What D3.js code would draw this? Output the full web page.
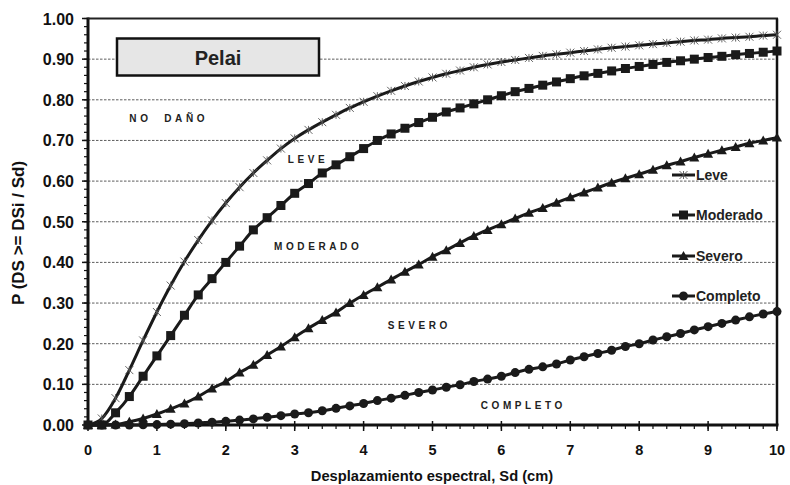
<!DOCTYPE html>
<html lang="es">
<head>
<meta charset="UTF-8">
<title>Pelai</title>
<script src="https://d3js.org/d3.v7.min.js"></script>
<style>
    body { margin: 0; background: #fff; }
    svg { display: block; font-family: "Liberation Sans", Arial, sans-serif; }
    .tick-label { font-weight: bold; fill: #111; }
    .zone { font-size: 10px; font-weight: bold; letter-spacing: 3.6px; fill: #222; }
    .legend-text { font-size: 14px; font-weight: bold; fill: #222; }
</style>
</head>
<body>
<div id="chart"></div>
<script>
// Sd values (cm), one point every 0.2 cm
const sd = d3.range(0, 51).map(i => +(i * 0.2).toFixed(1));

const leve = [0, 0.016, 0.066, 0.135, 0.208, 0.278, 0.343, 0.402, 0.455, 0.503, 0.546, 0.585, 0.62, 0.651, 0.68, 0.705, 0.726,
    0.745, 0.763, 0.78, 0.795, 0.809, 0.822, 0.834, 0.845, 0.855, 0.864, 0.872, 0.88, 0.887, 0.893, 0.898, 0.903,
    0.908, 0.912, 0.916, 0.92, 0.924, 0.928, 0.931, 0.934, 0.937, 0.94, 0.943, 0.946, 0.948, 0.951, 0.953, 0.955, 0.958, 0.96];
const moderado = [0, 0, 0.03, 0.07, 0.12, 0.17, 0.22, 0.27, 0.32, 0.36, 0.40, 0.44, 0.48, 0.51, 0.54, 0.57, 0.594,
    0.62, 0.64, 0.66, 0.68, 0.70, 0.716, 0.73, 0.744, 0.757, 0.77, 0.78, 0.79, 0.80, 0.81, 0.82, 0.828,
    0.836, 0.844, 0.852, 0.859, 0.865, 0.871, 0.877, 0.882, 0.887, 0.892, 0.896, 0.90, 0.904, 0.907, 0.911, 0.914, 0.917, 0.92];
const severo = [0, 0, 0.001, 0.008, 0.016, 0.027, 0.04, 0.053, 0.07, 0.09, 0.107, 0.129, 0.148, 0.172, 0.193, 0.216, 0.238,
    0.258, 0.277, 0.30, 0.32, 0.339, 0.358, 0.377, 0.395, 0.414, 0.43, 0.448, 0.465, 0.48, 0.494, 0.508, 0.522,
    0.534, 0.547, 0.56, 0.572, 0.584, 0.596, 0.607, 0.617, 0.628, 0.639, 0.648, 0.658, 0.667, 0.676, 0.684, 0.693, 0.70, 0.707];
const completo = [0, 0, 0, 0, 0.0005, 0.001, 0.002, 0.003, 0.005, 0.007, 0.009, 0.012, 0.015, 0.019, 0.023, 0.027, 0.03,
    0.035, 0.041, 0.047, 0.053, 0.06, 0.066, 0.073, 0.08, 0.086, 0.093, 0.099, 0.107, 0.113, 0.12, 0.129, 0.137,
    0.143, 0.15, 0.16, 0.168, 0.176, 0.184, 0.193, 0.20, 0.209, 0.217, 0.225, 0.234, 0.242, 0.25, 0.258, 0.266, 0.273, 0.279];

const seriesNames = ['Leve', 'Moderado', 'Severo', 'Completo'];
const seriesMarkers = ['star', 'square', 'triangle', 'circle'];
const xTicks = d3.range(0, 11);
const yTicks = d3.range(0, 1.0001, 0.1);

// zone labels: [text, sd, probability]
const zoneLabels = [
    ['NO  DAÑO', 0.6, 0.745],
    ['LEVE', 2.9, 0.645],
    ['MODERADO', 2.7, 0.43],
    ['SEVERO', 4.35, 0.235],
    ['COMPLETO', 5.7, 0.04]
];

const width = 790, height = 485;
const margin = { top: 18.5, right: 13, bottom: 60, left: 88 };

const svg = d3.select('#chart').append('svg')
    .attr('width', width)
    .attr('height', height);

const x = d3.scaleLinear().domain([0, 10]).range([margin.left, width - margin.right]);
const y = d3.scaleLinear().domain([0, 1]).range([height - margin.bottom, margin.top]);

// gridlines
svg.append('g').selectAll('line')
    .data(yTicks.slice(1))
    .enter().append('line')
    .attr('x1', x(0)).attr('x2', x(10))
    .attr('y1', d => y(d)).attr('y2', d => y(d))
    .attr('stroke', '#333')
    .attr('stroke-width', 0.8)
    .attr('stroke-dasharray', '2.5,1.5');

// title box
svg.append('rect')
    .attr('x', 117).attr('y', 38.5)
    .attr('width', 202).attr('height', 37)
    .attr('fill', '#e6e6e6')
    .attr('stroke', '#111')
    .attr('stroke-width', 2.5);
svg.append('text')
    .attr('x', 218).attr('y', 65)
    .attr('text-anchor', 'middle')
    .style('font-size', '20px').style('font-weight', 'bold').style('fill', '#222')
    .text('Pelai');

// zone labels
svg.append('g').selectAll('text')
    .data(zoneLabels)
    .enter().append('text')
    .attr('class', 'zone')
    .attr('x', d => x(d[1]))
    .attr('y', d => y(d[2]))
    .attr('xml:space', 'preserve')
    .text(d => d[0]);

// axes
const xAxis = svg.append('g').attr('transform', `translate(0,${y(0)})`);
xAxis.append('line').attr('x1', x(0) - 1.5).attr('x2', x(10) + 1.5).attr('stroke', '#111').attr('stroke-width', 3);
xAxis.selectAll('.minor').data(d3.range(0, 10.01, 0.2)).enter().append('line')
    .attr('x1', d => x(d)).attr('x2', d => x(d)).attr('y1', 0).attr('y2', 4)
    .attr('stroke', '#111').attr('stroke-width', 1.2);
xAxis.selectAll('.major').data(xTicks).enter().append('line')
    .attr('x1', d => x(d)).attr('x2', d => x(d)).attr('y1', -4).attr('y2', 6)
    .attr('stroke', '#111').attr('stroke-width', 1.5);
xAxis.selectAll('text').data(xTicks).enter().append('text')
    .attr('class', 'tick-label')
    .style('font-size', '14.5px')
    .attr('x', d => x(d)).attr('y', 30)
    .attr('text-anchor', 'middle')
    .text(d => d);

const yAxis = svg.append('g').attr('transform', `translate(${x(0)},0)`);
yAxis.append('line').attr('y1', y(0) + 1.5).attr('y2', y(1) - 1).attr('stroke', '#111').attr('stroke-width', 3);
yAxis.selectAll('.minor').data(d3.range(0, 1.001, 0.02)).enter().append('line')
    .attr('y1', d => y(d)).attr('y2', d => y(d)).attr('x1', -4).attr('x2', 0)
    .attr('stroke', '#111').attr('stroke-width', 1.2);
yAxis.selectAll('.major').data(yTicks).enter().append('line')
    .attr('y1', d => y(d)).attr('y2', d => y(d)).attr('x1', -6).attr('x2', 0)
    .attr('stroke', '#111').attr('stroke-width', 1.5);
yAxis.selectAll('text').data(yTicks).enter().append('text')
    .attr('class', 'tick-label')
    .style('font-size', '16px')
    .attr('x', -14).attr('y', d => y(d) + 6)
    .attr('text-anchor', 'end')
    .text(d => d.toFixed(2));

// frame top/right
svg.append('line').attr('x1', x(0)).attr('x2', x(10) + 1).attr('y1', y(1)).attr('y2', y(1))
    .attr('stroke', '#222').attr('stroke-width', 2);
svg.append('line').attr('x1', x(10)).attr('x2', x(10)).attr('y1', y(1)).attr('y2', y(0))
    .attr('stroke', '#111').attr('stroke-width', 2.5);

// axis titles
svg.append('text')
    .attr('x', 432).attr('y', 481)
    .attr('text-anchor', 'middle')
    .style('font-size', '14.7px').style('font-weight', 'bold').style('fill', '#111')
    .text('Desplazamiento espectral, Sd (cm)');
svg.append('text')
    .attr('transform', 'translate(24,233) rotate(-90)')
    .attr('text-anchor', 'middle')
    .style('font-size', '17px').style('font-weight', 'bold').style('fill', '#111')
    .text('P (DS >= DSi / Sd)');

// marker drawing
function drawMarker(g, type, px, py) {
    if (type === 'square') {
        g.append('rect').attr('x', px - 4.5).attr('y', py - 4.5).attr('width', 9).attr('height', 9).attr('fill', '#1a1a1a');
    } else if (type === 'circle') {
        g.append('circle').attr('cx', px).attr('cy', py).attr('r', 4.5).attr('fill', '#1a1a1a');
    } else if (type === 'triangle') {
        g.append('path').attr('d', `M${px},${py - 5}L${px + 5},${py + 4}L${px - 5},${py + 4}Z`).attr('fill', '#1a1a1a');
    } else {
        const s = 4;
        g.append('path')
            .attr('d', `M${px - s},${py - s}L${px + s},${py + s}M${px - s},${py + s}L${px + s},${py - s}M${px},${py - s}L${px},${py + s}`)
            .attr('stroke', '#555').attr('stroke-width', 0.9).attr('fill', 'none');
    }
}

const allSeries = [leve, moderado, severo, completo];
const line = d3.line().x(d => x(d[0])).y(d => y(d[1])).curve(d3.curveMonotoneX);

allSeries.forEach((vals, k) => {
    const pts = sd.map((s, i) => [s, vals[i]]);
    const g = svg.append('g');
    g.append('path')
        .datum(pts)
        .attr('d', line)
        .attr('fill', 'none')
        .attr('stroke', '#1a1a1a')
        .attr('stroke-width', 3);
    pts.forEach(p => drawMarker(g, seriesMarkers[k], x(p[0]), y(p[1])));
});

// legend
const legendY = [175, 215, 256, 296];
seriesNames.forEach((name, k) => {
    const g = svg.append('g');
    g.append('line').attr('x1', 672).attr('x2', 695).attr('y1', legendY[k]).attr('y2', legendY[k])
        .attr('stroke', '#1a1a1a').attr('stroke-width', 3);
    drawMarker(g, seriesMarkers[k], 683.5, legendY[k]);
    g.append('text').attr('class', 'legend-text')
        .attr('x', 696).attr('y', legendY[k] + 5)
        .text(name);
});
</script>
</body>
</html>
